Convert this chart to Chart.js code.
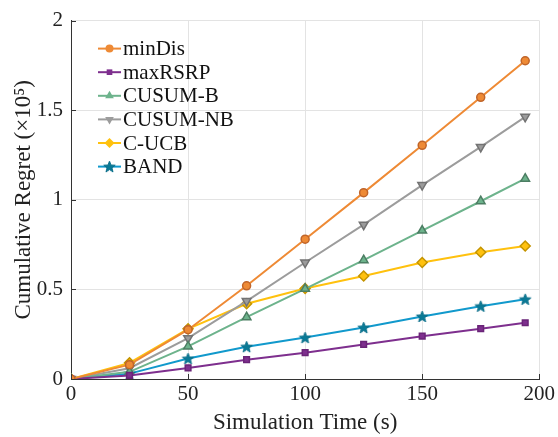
<!DOCTYPE html>
<html lang="en">
  <head>
    <meta charset="UTF-8" />
    <script src="https://cdn.jsdelivr.net/npm/chart.js"></script>
    <style>
      body { margin: 0; background: #fff; }
      #mainChart { width: 558px; height: 437px; }
    </style>
  </head>
  <body>
    <div id="mainChart">
      <canvas id="myChart" width="558" height="437"></canvas>
    </div>

    <script>
      const times = [0, 25, 50, 75, 100, 125, 150, 175, 194];
      const minDis = [0, 0.08, 0.275, 0.52, 0.78, 1.04, 1.304, 1.572, 1.776];
      const maxRSRP = [0, 0.02, 0.062, 0.108, 0.147, 0.193, 0.239, 0.281, 0.314];
      const cusumB = [0, 0.04, 0.182, 0.345, 0.503, 0.663, 0.828, 0.992, 1.118];
      const cusumNB = [0, 0.06, 0.228, 0.435, 0.65, 0.861, 1.082, 1.295, 1.463];
      const cUCB = [0, 0.09, 0.28, 0.42, 0.505, 0.575, 0.65, 0.707, 0.742];
      const band = [0, 0.03, 0.114, 0.18, 0.231, 0.287, 0.349, 0.406, 0.445];
      const xTicks = [0, 50, 100, 150, 200];
      const yTicks = [0, 0.5, 1, 1.5, 2];

      const serif = "'Liberation Serif', 'DejaVu Serif', serif";

      // filled five-point star (Chart.js's own star is outline only)
      function starImage(fill, edge, r) {
        const size = Math.ceil(r * 2 + 3);
        const cv = document.createElement("canvas");
        cv.width = size;
        cv.height = size;
        const g = cv.getContext("2d");
        const cx = size / 2, cy = size / 2 + 0.5;
        g.beginPath();
        for (let i = 0; i < 10; i++) {
          const rr = i % 2 === 0 ? r : r * 0.42;
          const a = -Math.PI / 2 + (i * Math.PI) / 5;
          g.lineTo(cx + rr * Math.cos(a), cy + rr * Math.sin(a));
        }
        g.closePath();
        g.fillStyle = fill;
        g.fill();
        g.strokeStyle = edge;
        g.lineWidth = 1;
        g.stroke();
        return cv;
      }

      function series(label, values, line, edge, style, radius, rotation) {
        return {
          label: label,
          data: times.map((t, i) => ({ x: t, y: values[i] })),
          borderColor: line,
          borderWidth: 2,
          pointStyle: style,
          pointRadius: radius,
          pointRotation: rotation || 0,
          pointBackgroundColor: line,
          pointBorderColor: edge,
          pointBorderWidth: 1.5,
          tension: 0,
          fill: false,
        };
      }

      // legend drawn inside the plot area, top-left
      const insideLegend = {
        id: "insideLegend",
        afterDraw(chart) {
          const c = chart.ctx;
          const left = chart.chartArea.left + 27;
          let y = chart.chartArea.top + 28;
          c.save();
          c.font = "21px " + serif;
          c.textBaseline = "middle";
          chart.data.datasets.forEach((ds) => {
            c.strokeStyle = ds.borderColor;
            c.lineWidth = 2;
            c.beginPath();
            c.moveTo(left, y);
            c.lineTo(left + 23, y);
            c.stroke();
            c.fillStyle = ds.pointBackgroundColor;
            c.strokeStyle = ds.pointBorderColor;
            c.lineWidth = 1.5;
            Chart.helpers.drawPoint(c, {
              pointStyle: ds.pointStyle,
              radius: ds.pointRadius,
              rotation: ds.pointRotation,
            }, left + 11.5, y);
            c.fillStyle = "#111";
            c.fillText(ds.label, left + 25, y + 1);
            y += 23.6;
          });
          c.restore();
        },
      };

      // small inward tick marks on the left and bottom axes
      const inwardTicks = {
        id: "inwardTicks",
        afterDraw(chart) {
          const c = chart.ctx;
          const a = chart.chartArea;
          const xs = chart.scales.x, ys = chart.scales.y;
          c.save();
          c.strokeStyle = "#333";
          c.lineWidth = 1;
          c.beginPath();
          xTicks.forEach((v) => {
            const px = Math.round(xs.getPixelForValue(v)) + 0.5;
            c.moveTo(px, a.bottom);
            c.lineTo(px, a.bottom - 5);
          });
          yTicks.forEach((v) => {
            const py = Math.round(ys.getPixelForValue(v)) + 0.5;
            c.moveTo(a.left, py);
            c.lineTo(a.left + 5, py);
          });
          c.stroke();
          c.restore();
        },
      };

      const ctx = document.getElementById("myChart");
      const myChart = new Chart(ctx, {
        type: "line",
        data: {
          datasets: [
            series("minDis", minDis, "#EE8A35", "#C0652A", "circle", 4),
            series("maxRSRP", maxRSRP, "#7E2F8E", "#6A2478", "rect", 4),
            series("CUSUM-B", cusumB, "#6DB38C", "#4C7E63", "triangle", 5),
            series("CUSUM-NB", cusumNB, "#9C9C9C", "#737373", "triangle", 5, 180),
            series("C-UCB", cUCB, "#FFC10E", "#C49400", "rectRot", 5),
            series("BAND", band, "#1199CC", "#0A6F8A", starImage("#0A7A96", "#0A6F8A", 6), 6),
          ],
        },
        options: {
          responsive: false,
          animation: false,
          layout: { padding: { top: 16, right: 18, left: 0, bottom: 0 } },
          plugins: {
            legend: { display: false },
            tooltip: { enabled: false },
          },
          scales: {
            x: {
              type: "linear",
              min: 0,
              max: 200,
              afterBuildTicks: (s) => { s.ticks = xTicks.map((v) => ({ value: v })); },
              afterFit: (s) => { s.height = 58; },
              grid: { color: "#E3E3E3", drawTicks: false },
              border: { color: "#333", width: 1 },
              ticks: {
                color: "#222", font: { family: serif, size: 21 }, padding: 3,
                autoSkip: false, maxRotation: 0,
                callback: (v) => String(v),
              },
              title: {
                display: true,
                text: "Simulation Time (s)",
                color: "#222",
                font: { family: serif, size: 23 },
                padding: { top: 0, bottom: 0 },
              },
            },
            y: {
              min: 0,
              max: 2,
              afterBuildTicks: (s) => { s.ticks = yTicks.map((v) => ({ value: v })); },
              afterFit: (s) => { s.width = 71; },
              grid: { color: "#E3E3E3", drawTicks: false },
              border: { color: "#333", width: 1 },
              ticks: {
                color: "#222", font: { family: serif, size: 21 }, padding: 8,
                autoSkip: false,
                callback: (v) => String(v),
              },
              title: {
                display: true,
                text: "Cumulative Regret (×10⁵)",
                color: "#222",
                font: { family: serif, size: 23 },
                padding: { top: 10, bottom: 0 },
              },
            },
          },
        },
        plugins: [insideLegend, inwardTicks],
      });
    </script>
  </body>
</html>
